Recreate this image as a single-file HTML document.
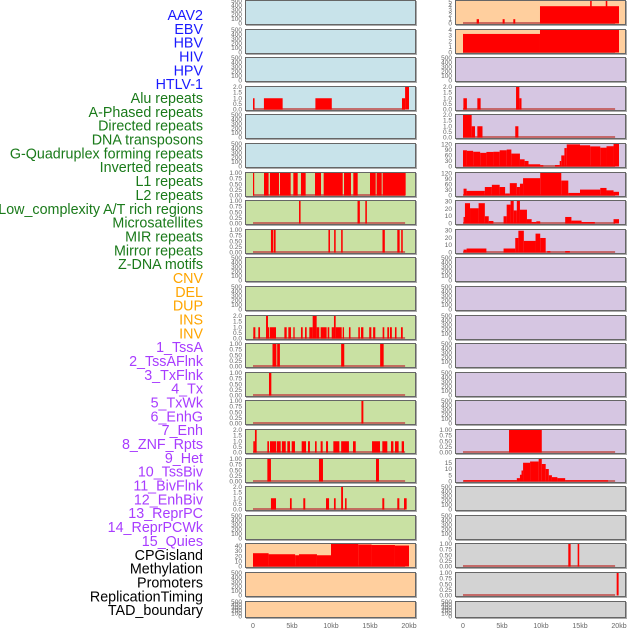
<!DOCTYPE html>
<html><head><meta charset="utf-8"><style>
html,body{margin:0;padding:0;background:#fff;}
svg{display:block;}
</style></head><body>
<svg id="chart" width="630" height="630" xmlns="http://www.w3.org/2000/svg" font-family="Liberation Sans, sans-serif">
<g id="labels"></g>
<g id="panels"></g>
<g id="xaxes"></g>
</svg>
<script>
// ---- data ----
const trackLabels = ["AAV2","EBV","HBV","HIV","HPV","HTLV-1","Alu repeats","A-Phased repeats","Directed repeats","DNA transposons","G-Quadruplex forming repeats","Inverted repeats","L1 repeats","L2 repeats","Low_complexity A/T rich regions","Microsatellites","MIR repeats","Mirror repeats","Z-DNA motifs","CNV","DEL","DUP","INS","INV","1_TssA","2_TssAFlnk","3_TxFlnk","4_Tx","5_TxWk","6_EnhG","7_Enh","8_ZNF_Rpts","9_Het","10_TssBiv","11_BivFlnk","12_EnhBiv","13_ReprPC","14_ReprPCWk","15_Quies","CPGisland","Methylation","Promoters","ReplicationTiming","TAD_boundary"];
const labelGroups = [6,13,5,15,5];
const groupColors = ["#1a1aff","#1a7a1a","#ffa500","#a83cff","#000000"];
const xTickValues = [0,5,10,15,20];
const xTickLabels = ["0","5kb","10kb","15kb","20kb"];
const leftBg = ["b","b","b","b","b","b","g","g","g","g","g","g","g","g","g","g","g","g","g","o","o","o"];
const rightBg = ["o","o","p","p","p","p","p","p","p","p","p","p","p","p","p","p","p","g2","g2","g2","g2","g2"];
const leftMax = [500,500,500,2,500,500,1,1,1,500,500,2,1,1,1,2,1,2,500,44,500,500];
const rightMax = [5.2,4,500,2,2,122,122,31,31,500,500,500,500,500,500,1,18,500,500,1,1,500];
const leftTicks = ["e","e","e","2","e","e","1","1","1","e","e","2","1","1","1","2","1","2","e","cpg","e","e"];
const rightTicks = ["r5","r4","e","2","2","q","q","t","t","e","e","e","e","e","e","1","f","e","e","1","1","e"];
// segments [startKb, endKb, value]
const aluLeft = [[0,0.2,1],[1.4,3.8,1],[8,10.1,1],[19.1,19.5,1],[19.5,20,2]];
const l1Left = [[0,0.13,1],[1.41,2,1],[2.17,3.33,1],[3.46,4.83,1],[5.17,5.73,1],[6.15,6.75,1],[7.95,8.72,1],[9.06,11.5,1],[11.67,12.56,1],[12.86,13.42,1],[15,15.73,1],[15.85,16.5,1],[16.62,19.57,1]];
const lowLeft = [[5.9,6.1,1],[13.4,13.7,1],[14.4,14.6,1]];
const mirLeft = [[2.3,2.57,1],[2.65,2.9,1],[9.67,9.87,1],[10.4,10.6,1],[11.3,11.5,1],[16.6,16.9,1],[18.5,18.8,1],[19.0,19.2,1]];
const insLeft = [[0.04,0.3,1],[0.68,0.9,1],[1.67,1.92,2],[1.92,2.09,1],[2.18,2.95,1],[4.02,4.32,1],[4.53,4.87,1],[5.17,5.34,1],[6.15,6.37,1],[6.67,6.88,1],[7.22,7.65,1],[7.65,8.16,2],[8.16,8.5,1],[8.67,9.1,1],[9.1,9.44,1],[9.57,9.78,1],[10.09,10.38,1],[10.38,10.6,2],[10.6,11.37,1],[11.5,11.67,1],[12.3,12.5,1],[13.5,13.7,1],[13.85,14.15,1],[14.9,15.17,1],[15.4,15.68,1],[16.62,16.83,1],[17.22,17.44,1],[17.56,17.8,1],[18.2,18.4,1],[18.97,19.2,1]];
const tssALeft = [[2.5,3.0,1],[3.1,3.45,1],[11.3,11.7,1],[16.3,16.75,1]];
const tssAFlnkLeft = [[2.05,2.35,1]];
const txFlnkLeft = [[13.9,14.15,1]];
const enhLeft = [[0.04,0.25,1],[0.25,0.47,2],[1.84,2.05,1],[2.18,2.95,1],[3.04,3.55,1],[3.7,4.2,1],[4.4,4.74,1],[4.96,5.38,1],[6.24,6.8,1],[7.05,7.3,1],[7.95,8.16,1],[8.67,8.93,1],[9.36,9.62,1],[10.3,11.07,1],[11.3,12.3,1],[12.82,13.17,1],[15.26,16.28,1],[16.58,17.22,1],[17.69,18.0,1],[18.2,18.67,1],[19.06,19.36,1]];
const znfLeft = [[1.84,2.3,1],[8.46,8.97,1],[15.77,16.15,1]];
const hetLeft = [[2.3,2.95,1],[4.74,4.96,1],[6.45,6.7,1],[9.36,9.75,1],[10.38,10.6,1],[11.3,11.54,2],[11.8,12.0,1],[16.58,16.83,1],[18.5,18.76,1],[19.36,19.7,1]];
const cpgLeft = [[0,2,26],[2,5.4,24],[5.4,5.9,22],[5.9,8.2,24],[8.2,10,22],[10,13.5,44],[13.5,15.2,43],[15.2,18.2,42],[18.2,20,41]];
const aav2Right = [[1.75,2.05,1],[5.08,5.34,1],[6.45,6.7,1],[9.87,20,4],[16.3,16.5,5.2],[18.3,18.5,5.2]];
const ebvRight = [[0,9.87,3.3],[9.87,20,4]];
const aluRight = [[0.05,0.5,1],[1.84,2.26,1],[6.8,7.22,2],[7.22,7.5,1]];
const directedRight = [[0,1.11,2],[1.11,1.54,1],[1.84,2.5,1],[6.7,7.1,1]];
const gquadRight = [[0,0.5,88],[0.5,1.3,85],[1.3,2.2,80],[2.2,3,74],[3,3.9,79],[3.9,4.7,80],[4.7,5.6,88],[5.6,6.2,92],[6.2,7.3,70],[7.3,7.9,39],[7.9,8.4,30],[8.4,9.9,12],[9.9,10.3,7],[11.8,12.4,8],[12.4,12.6,30],[12.6,13,60],[13,13.3,100],[13.3,15,120],[15,16.3,115],[16.3,17.6,109],[17.6,18.4,102],[18.4,19.3,110],[19.3,20,122]];
const l1Right = [[0.07,0.46,37],[0.46,2.8,25],[2.8,3.7,46],[3.7,4.7,58],[4.7,5.4,46],[5.4,6.0,11],[6.0,6.9,67],[6.9,7.3,46],[7.3,7.7,64],[7.7,9.9,94],[9.9,12.6,122],[12.6,13.5,81],[13.5,15,14],[15,17.6,32],[17.6,18.4,41],[18.4,19.3,28],[19.3,20,20]];
const lowRight = [[0.07,0.25,9],[0.25,0.9,28],[0.9,2.0,21],[2.0,2.8,28],[2.8,3.3,10],[3.3,3.9,3.5],[5.2,5.6,10],[5.6,6.1,26],[6.1,6.5,31],[6.5,6.9,18],[6.9,7.3,31],[7.3,8.2,19],[8.2,8.8,6],[8.8,9.4,2],[9.4,9.9,3],[13.1,13.9,9],[13.9,15.2,4],[15.2,16.9,2],[19.3,20,6]];
const mirRight = [[0.07,0.46,4],[0.46,3.0,5.5],[5.2,6.7,5.5],[6.7,7.1,20],[7.1,7.8,30],[7.8,9.3,16],[9.3,9.9,26],[9.9,10.6,20],[10.8,11.2,2],[13.1,13.7,2]];
const enhRight = [[5.9,10.1,1]];
const znfRight = [[0.07,6.9,1],[6.9,7.3,2.7],[7.3,7.5,5.4],[7.5,7.7,8.8],[7.7,8.6,15],[8.6,9.7,16],[9.7,10.1,18],[10.1,10.6,14],[10.6,11.0,10],[11.0,11.4,5],[11.4,12.1,3.5],[12.1,13.1,2.7],[13.1,18.6,1]];
const cpgRight = [[13.5,13.8,1],[14.7,14.9,1]];
const methRight = [[19.7,19.95,1]];
const leftSeries = [null,null,null,aluLeft,null,null,l1Left,lowLeft,mirLeft,null,null,insLeft,tssALeft,tssAFlnkLeft,txFlnkLeft,enhLeft,znfLeft,hetLeft,null,cpgLeft,null,null];
const rightSeries = [aav2Right,ebvRight,null,aluRight,directedRight,gquadRight,l1Right,lowRight,mirRight,null,null,null,null,null,null,enhRight,znfRight,null,null,cpgRight,methRight,null];

// ---- layout ----
const NS = "http://www.w3.org/2000/svg";
const bgColors = {b:"#c8e3ea",g:"#c9e1a3",o:"#ffcf9e",p:"#d6c6e2",g2:"#d3d3d3"};
const tickSets = {
  e:[0,100,200,300,400,500], "2":[0,0.5,1,1.5,2], "1":[0,0.25,0.5,0.75,1],
  cpg:[0,10,20,30,40], r5:[0,1,2,3,4,5], r4:[0,1,2,3,4], q:[0,30,60,90,120], t:[0,10,20,30], f:[0,5,10,15]
};
function fmt(set,v){ if(set==="1") return v.toFixed(2); if(set==="2") return v.toFixed(1); return String(v); }
function mk(tag,attrs,parent){const e=document.createElementNS(NS,tag);for(const k in attrs)e.setAttribute(k,attrs[k]);parent.appendChild(e);return e;}

const labelsG = document.getElementById('labels');
let gi=0, cnt=0;
trackLabels.forEach((t,i)=>{
  while(cnt>=labelGroups[gi]){cnt=0;gi++;}
  cnt++;
  const el = mk('text',{x:203,y:(20+i*13.84).toFixed(1),'text-anchor':'end','font-size':'14.3',fill:groupColors[gi]},labelsG);
  el.textContent=t;
  
  
});

const panelsG = document.getElementById('panels');
function xScale(kb,px0){ return px0 + 8 + kb*7.8; }
function drawPanel(colX, row, bgKey, maxV, tickKey, series, side){
  const top = Math.round(row*28.6);
  const h = row===21 ? 17 : 25;
  const w = 171;
  const g = mk('g',{},panelsG);
  
  
  mk('rect',{x:colX+1,y:top+1,width:w,height:h,fill:'#aaa'},g);
  const r = mk('rect',{x:colX+0.5,y:top+0.5,width:w-1,height:h-1,fill:bgColors[bgKey],stroke:'#666','stroke-width':1},g);
  
  
  const y0 = top+h-1.5, y1 = top+1;
  const yS = v => y0 - (v/maxV)*(y0-y1);
  tickSets[tickKey].forEach(v=>{
    const t = mk('text',{x:colX-3,y:(yS(v)+2).toFixed(1),'text-anchor':'end','font-size':'6.5',fill:'#666'},g);
    t.textContent = fmt(tickKey,v);
    
    
  });
  if(series){
    const bl = mk('rect',{x:xScale(0,colX),y:y0-1.5,width:19.5*7.8,height:2,fill:'#c0504d','fill-opacity':0.8},g);
    
    
    series.forEach(s=>{
      const xa = xScale(s[0],colX), xb = xScale(s[1],colX);
      const yv = Math.max(yS(s[2]), top+1);
      const b = mk('rect',{x:xa.toFixed(2),y:yv.toFixed(2),width:Math.max(xb-xa,1.2).toFixed(2),height:(y0-yv).toFixed(2),fill:'#ff0000'},g);
      
      
    });
  }
}
for(let r=0;r<22;r++){
  drawPanel(245, r, leftBg[r], leftMax[r], leftTicks[r], leftSeries[r], 'left');
  drawPanel(455, r, rightBg[r], rightMax[r], rightTicks[r], rightSeries[r], 'right');
}
const xa = document.getElementById('xaxes');
[245,455].forEach(cx=>{
  xTickValues.forEach((v,i)=>{
    const t = mk('text',{x:xScale(v,cx).toFixed(1),y:628,'text-anchor':'middle','font-size':'7',fill:'#666'},xa);
    t.textContent = xTickLabels[i];
    
    
  });
});
</script>
</body></html>
